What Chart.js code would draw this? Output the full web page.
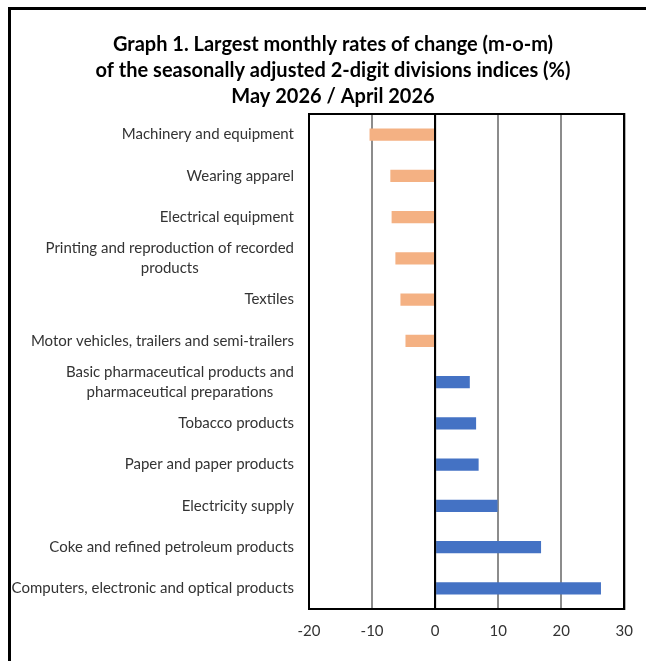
<!DOCTYPE html>
<html>
<head>
<meta charset="utf-8">
<script src="https://cdn.jsdelivr.net/npm/chart.js@4"></script>
<style>
  html, body { margin: 0; padding: 0; background: #fff; }
  #frame { position: absolute; left: 8px; top: 7px; width: 640px; height: 660px; border-left: 3px solid #000; border-top: 3px solid #000; }
  #wrap { position: absolute; left: 0; top: 0; width: 646px; height: 661px; }
</style>
</head>
<body>
<div id="frame"></div>
<div id="wrap"><canvas id="c" width="646" height="661"></canvas></div>
<script>
const categories = [
  "Machinery and equipment",
  "Wearing apparel",
  "Electrical equipment",
  ["Printing and reproduction of recorded", "products"],
  "Textiles",
  "Motor vehicles, trailers and semi-trailers",
  ["Basic pharmaceutical products and", "pharmaceutical preparations"],
  "Tobacco products",
  "Paper and paper products",
  "Electricity supply",
  "Coke and refined petroleum products",
  "Computers, electronic and optical products"
];
const changes = [-10.4, -7.1, -6.9, -6.3, -5.5, -4.7, 5.5, 6.5, 6.9, 9.9, 16.8, 26.3];
const xTicks = [-20, -10, 0, 10, 20, 30];
const titleLines = [
  "Graph 1. Largest monthly rates of change (m-o-m)",
  "of the seasonally adjusted 2-digit divisions indices (%)",
  "May 2026 / April 2026"
];

const FONT = "Lato, 'Open Sans', sans-serif";

const labelPlugin = {
  id: 'catLabels',
  afterDraw(chart) {
    const ys = chart.scales.y;
    const ctx = chart.ctx;
    ctx.save();
    ctx.font = "15px " + FONT;
    ctx.fillStyle = '#333';
    ctx.textAlign = 'center';
    ctx.textBaseline = 'middle';
    const right = chart.chartArea.left - 15;
    const lh = 20;
    categories.forEach((lab, i) => {
      const lines = Array.isArray(lab) ? lab : [lab];
      const w = Math.max(...lines.map(l => ctx.measureText(l).width));
      const cx = right - w / 2;
      const yc = ys.getPixelForValue(i);
      lines.forEach((l, j) => ctx.fillText(l, cx, yc + (j - (lines.length - 1) / 2) * lh));
    });
    ctx.restore();
  },
  afterDatasetsDraw(chart) {
    const ctx = chart.ctx;
    const a = chart.chartArea;
    const x0 = chart.scales.x.getPixelForValue(0);
    ctx.save();
    ctx.strokeStyle = '#000';
    ctx.lineWidth = 2;
    ctx.beginPath();
    ctx.moveTo(x0, a.top);
    ctx.lineTo(x0, a.bottom);
    ctx.stroke();
    ctx.strokeRect(a.left, a.top, a.right - a.left, a.bottom - a.top);
    ctx.restore();
  }
};

new Chart(document.getElementById('c'), {
  type: 'bar',
  data: {
    labels: categories,
    datasets: [{
      data: changes,
      backgroundColor: changes.map(v => v < 0 ? '#F4B183' : '#4472C4'),
      borderWidth: 0,
      barPercentage: 0.3,
      categoryPercentage: 1.0
    }]
  },
  options: {
    indexAxis: 'y',
    responsive: false,
    animation: false,
    layout: { padding: { left: 38, right: 18, top: 0, bottom: 12 } },
    plugins: {
      legend: { display: false },
      tooltip: { enabled: false },
      title: {
        display: true,
        text: titleLines,
        color: '#000',
        font: { family: FONT, size: 20, weight: 'bold', lineHeight: 1.3 },
        padding: { top: 32, bottom: 4 }
      }
    },
    scales: {
      x: {
        min: -20, max: 30,
        afterBuildTicks(scale) { scale.ticks = xTicks.map(v => ({ value: v })); },
        afterFit(scale) { scale.height = 40; },
        ticks: { color: '#333', font: { family: FONT, size: 15 }, padding: 13, maxRotation: 0 },
        grid: {
          drawTicks: false,
          color: ctx => (ctx.tick && (ctx.tick.value === 0 || ctx.tick.value === -20 || ctx.tick.value === 30)) ? '#000' : '#8c8c8c',
          lineWidth: 2
        },
        border: { display: false }
      },
      y: {
        afterFit(scale) { scale.width = 271; },
        ticks: { display: false },
        grid: { display: false, drawTicks: false },
        border: { display: false }
      }
    }
  },
  plugins: [labelPlugin]
});
</script>
</body>
</html>
